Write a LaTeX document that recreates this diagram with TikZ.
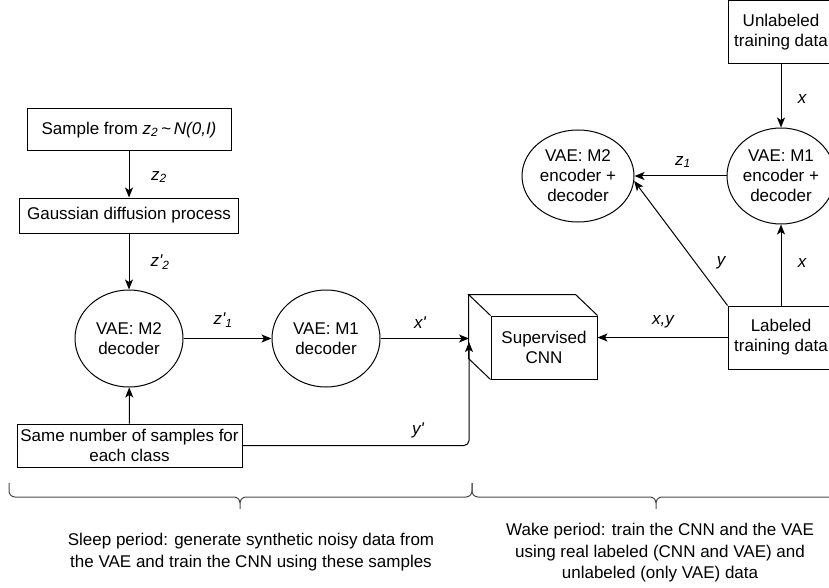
\documentclass[tikz,border=0pt]{standalone}
\usepackage{fontspec}
\setmainfont{Liberation Sans}
\usetikzlibrary{shapes.geometric,arrows.meta,calc}
\begin{document}
\begin{tikzpicture}[x=1pt,y=-1pt,
  every node/.style={font=\fontsize{17}{20}\selectfont},
  box/.style={draw, rectangle, align=center, inner sep=0pt, line width=1pt},
  oval/.style={draw, ellipse, align=center, inner sep=0pt, line width=1pt},
  lbl/.style={font=\fontsize{17}{20}\selectfont\itshape, inner sep=0pt},
  arr/.style={-{Stealth[length=10pt,width=8pt,inset=2.5pt]}, line width=1pt},
  brace/.style={line width=1pt, black!70},
  note/.style={align=center, inner sep=0pt, font=\fontsize{17}{21.5}\selectfont}]

\useasboundingbox (0,0) rectangle (829,588);
\clip (0,0) rectangle (829,588);

% sleep side: generative chain
\node[box, minimum width=204pt, minimum height=42pt] (sample) at (129,130)
  {Sample from \textit{z\textsubscript{2}\,\textasciitilde\,N(0,I)}};
\node[box, minimum width=219pt, minimum height=35pt] (gauss) at (129,215.5)
  {Gaussian diffusion process};
\node[oval, minimum width=108pt, minimum height=97pt] (m2dec) at (129,338.5)
  {VAE: M2\\decoder};
\node[oval, minimum width=108pt, minimum height=97pt] (m1dec) at (326,338.5)
  {VAE: M1\\decoder};
\node[box, minimum width=225pt, minimum height=43pt] (same) at (129.5,445.5)
  {Same number of samples for\\each class};

% supervised CNN drawn as a cube
\node[box, minimum width=106pt, minimum height=63pt] (cnn) at (544,347.5)
  {Supervised\\CNN};
\draw[line width=1pt] (cnn.north west) -- ++(-22,-21) -- ($(cnn.north east)+(-22,-21)$) -- (cnn.north east);
\draw[line width=1pt] ($(cnn.north west)+(-22,-21)$) -- ($(cnn.south west)+(-22,-21)$) -- (cnn.south west);
\coordinate (cnnin) at (469,338.5);
\coordinate (cnnin2) at (469,342);

% wake side: data and VAE training
\node[box, minimum width=106pt, minimum height=63pt] (labeled) at (781,337.5)
  {Labeled\\training data};
\node[box, minimum width=106pt, minimum height=63pt] (unlab) at (781,32.5)
  {Unlabeled\\training data};
\node[oval, minimum width=108pt, minimum height=96pt] (m1enc) at (781,176)
  {VAE: M1\\encoder +\\decoder};
\node[oval, minimum width=112pt, minimum height=92pt] (m2enc) at (578,176)
  {VAE: M2\\encoder +\\decoder};

% connectors
\draw[arr] (sample) -- (gauss);
\draw[arr] (gauss) -- (m2dec);
\draw[arr] (same) -- (m2dec);
\draw[arr] (m2dec) -- (m1dec);
\draw[arr] (m1dec.east) -- (cnnin);
\draw[arr, rounded corners=5pt] (same.east) -| (cnnin2);
\draw[arr] (labeled.west) -- (labeled.west -| cnn.east);
\draw[arr] (unlab) -- (m1enc);
\draw[arr] (labeled) -- (m1enc);
\draw[arr] (m1enc) -- (m2enc);
\draw[arr] (labeled.north west) -- (m2enc.-5);

% connector labels
\node[lbl] (lz2) at (159,177) {z\textsubscript{2}};
\node[lbl] (lz2p) at (160,262) {z\textquotesingle\textsubscript{2}};
\node[lbl] (lz1p) at (223,320) {z\textquotesingle\textsubscript{1}};
\node[lbl] (lxp) at (420,323) {x\textquotesingle};
\node[lbl] (lyp) at (418,430) {y\textquotesingle};
\node[lbl] (lxy) at (663,322) {x,y};
\node[lbl] (lz1) at (683,162) {z\textsubscript{1}};
\node[lbl] (lx1) at (802,99) {x};
\node[lbl] (ly) at (721,263) {y};
\node[lbl] (lx2) at (802,263) {x};

% braces
\draw[brace] (9,483) -- (9,491) to[out=-90,in=180] (15,497) -- (234,497)
  to[out=0,in=90] (240,503) -- (240,509);
\draw[brace] (240,503) to[out=90,in=180] (246,497) -- (466,497)
  to[out=0,in=-90] (472,491) -- (472,483);
\draw[brace] (472,483) -- (472,491) to[out=-90,in=180] (478,497) -- (650,497)
  to[out=0,in=90] (656,503) -- (656,509);
\draw[brace] (656,503) to[out=90,in=180] (662,497) -- (834,497)
  to[out=0,in=-90] (840,491) -- (840,483);

% period descriptions
\node[note] (sleep) at (251,552)
  {Sleep period: generate synthetic noisy data from\\the VAE and train the CNN using these samples};
\node[note] (wake) at (660,553)
  {Wake period: train the CNN and the VAE\\using real labeled (CNN and VAE) and\\unlabeled (only VAE) data};
\end{tikzpicture}
\end{document}
